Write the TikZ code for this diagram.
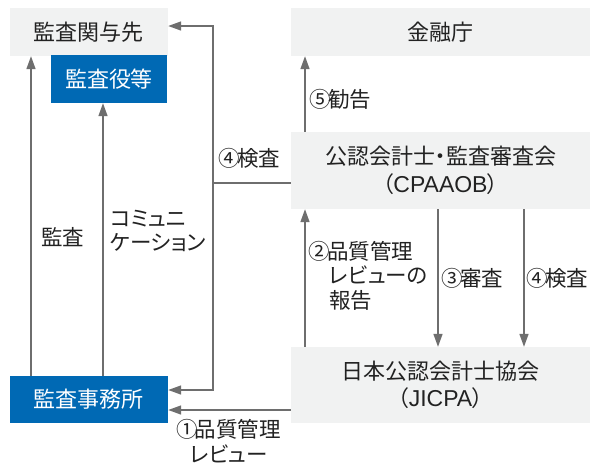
\documentclass[tikz,border=0pt]{standalone}
\usepackage{fontspec}
\setmainfont[RawFeature=+palt]{Noto Sans CJK JP}
\newfontfamily\latinf{Liberation Sans}
\newcommand\circn[1]{\kern-1.5pt#1\kern-3pt}
\usetikzlibrary{arrows.meta}
\definecolor{boxgray}{HTML}{F1F2F2}
\definecolor{boxblue}{HTML}{0069B4}
\definecolor{linegray}{HTML}{6E6E6E}
\definecolor{txt}{HTML}{222222}
\tikzset{
  gbox/.style={fill=boxgray,draw=none,text=txt,inner sep=0pt,align=center,font=\fontsize{22}{27.5}\selectfont},
  bbox/.style={fill=boxblue,draw=none,text=white,inner sep=0pt,align=center,font=\fontsize{22}{27.5}\selectfont},
  lbl/.style={text=txt,inner sep=0pt,font=\fontsize{21.5}{24.5}\selectfont},
  conn/.style={draw=linegray,line width=1.5pt},
  arr/.style={conn,-{Triangle[length=13pt,width=9pt]},color=linegray}
}
\begin{document}
\begin{tikzpicture}[x=1pt,y=-1pt]
\useasboundingbox[fill=white] (0,0) rectangle (590,464);
% boxes
\node[gbox,minimum width=158pt,minimum height=48pt] (A) at (89,32) {監査関与先};
\node[bbox,minimum width=116pt,minimum height=48pt] (B) at (109,79) {監査役等};
\node[gbox,minimum width=299pt,minimum height=48pt] (F) at (440.5,32) {金融庁};
\node[gbox,minimum width=299pt,minimum height=77pt] (C) at (440.5,170.5) {公認会計士・監査審査会\\（{\latinf\fontsize{23}{27.5}\selectfont CPAAOB}）};
\node[gbox,minimum width=299pt,minimum height=76pt] (J) at (440.5,385) {日本公認会計士協会\\（{\latinf\fontsize{23}{27.5}\selectfont JICPA}）};
\node[bbox,minimum width=158pt,minimum height=47pt] (O) at (89,399.5) {監査事務所};
% helper coordinates
\coordinate (c1) at (31,0);
\coordinate (c2) at (103,0);
\coordinate (k4) at (213,183);
\coordinate (ka) at (213,26);
\coordinate (ko) at (213,390);
\coordinate (r1) at (0,410);
\coordinate (x5) at (305,0);
\coordinate (x3) at (438,0);
\coordinate (x4) at (524,0);
% connectors
\draw[arr] (c1 |- O.north) -- (c1 |- A.south);
\draw[arr] (c2 |- O.north) -- (c2 |- B.south);
\draw[conn] (k4 -| C.west) -- (k4);
\draw[arr] (k4) -- (ka) -- (ka -| A.east);
\draw[arr] (k4) -- (ko) -- (ko -| O.east);
\draw[arr] (r1 -| J.west) -- (r1 -| O.east);
\draw[arr] (x5 |- C.north) -- (x5 |- F.south);
\draw[arr] (x5 |- J.north) -- (x5 |- C.south);
\draw[arr] (x3 |- C.south) -- (x3 |- J.north);
\draw[arr] (x4 |- C.south) -- (x4 |- J.north);
% labels
\node[lbl,anchor=west] (l1) at (41,237) {監査};
\node[lbl,anchor=north west,align=left] (l2) at (110,210) {コミュニ\\ケーション};
\node[lbl,anchor=west] (l3) at (220,158) {\circn{④}検査};
\node[lbl,anchor=west] (l4) at (311,99) {\circn{⑤}勧告};
\node[lbl,anchor=north west,align=left] (l5) at (310,241) {\circn{②}品質管理\\\hspace*{19pt}レビューの\\\hspace*{19pt}報告};
\node[lbl,anchor=west] (l6) at (443,278) {\circn{③}審査};
\node[lbl,anchor=west] (l7) at (528,278) {\circn{④}検査};
\node[lbl,align=center] (l8) at (229,441) {\circn{①}品質管理\\レビュー};
\end{tikzpicture}
\end{document}
